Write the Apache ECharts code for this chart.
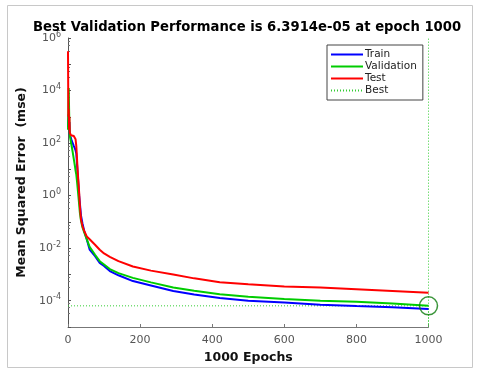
<!DOCTYPE html>
<html><head><meta charset="utf-8">
<script src="https://cdn.jsdelivr.net/npm/echarts@6/dist/echarts.min.js"></script>
<style>html,body{margin:0;padding:0;background:#fff}#c{width:480px;height:375px}</style>
</head><body><div id="c"></div>
<script>
var epochs = [0,1,2,3,4,5,6,8,10,13,16,19,21,23,25,27,29,31,33,36,40,45,52,60,75,88,100,116,140,180,230,292,350,421,500,600,700,800,900,1000];
var trainMse = [400,800,1260,400,630,200,178,158,126,100,79,63,52,40,16,6.3,2.5,1.0,0.5,0.178,0.089,0.045,0.022,0.0089,0.005,0.00275,0.0021,0.00135,9.3e-4,5.6e-4,3.8e-4,2.35e-4,1.74e-4,1.26e-4,1.0e-4,8.5e-5,7.1e-5,6.3e-5,5.6e-5,4.8e-5];
var validationMse = [320,1600,12600,2000,400,200,160,112,79,45,25,14,8.9,6.3,3.5,1.8,0.91,0.45,0.22,0.112,0.063,0.04,0.022,0.0112,0.0056,0.0032,0.0024,0.0016,0.00112,7.4e-4,5.0e-4,3.2e-4,2.4e-4,1.78e-4,1.41e-4,1.17e-4,1.0e-4,9.1e-5,7.9e-5,6.3914e-5];
var testMse = [3.1e5,1000,2000,320,1000,250,220,200,200,190,185,180,140,79,25,7.9,3.2,1.26,0.4,0.126,0.071,0.045,0.028,0.022,0.0135,0.0087,0.0063,0.0047,0.0032,0.002,0.0014,0.001,7.1e-4,5.1e-4,4.2e-4,3.5e-4,3.2e-4,2.75e-4,2.35e-4,2.0e-4];
var bestEpoch = 1000;
var bestValue = 6.3914e-5;
var yMin = 1e-5, yMax = 1e6;
var titleText = 'Best Validation Performance is 6.3914e-05 at epoch 1000';

function pairs(xs, ys){ var out=[]; for (var i=0;i<xs.length;i++) out.push([xs[i], ys[i]]); return out; }

var chart = echarts.init(document.getElementById('c'), null, {renderer:'canvas'});
var font = 'DejaVu Sans';
chart.setOption({
  animation:false,
  backgroundColor:'#fff',
  graphic:[{type:'rect', shape:{x:7.5,y:5.5,width:465,height:362}, style:{fill:'none', stroke:'#c8c8c8', lineWidth:1}, z:-10}],
  title:{text:titleText, left:28, top:16,
    textStyle:{fontFamily:font, fontWeight:'bold', fontSize:13.2, color:'#000'}},
  legend:{orient:'vertical', left:327, top:45, padding:[4,6,4,3], itemGap:1, itemWidth:32, itemHeight:11,
    backgroundColor:'#fff', borderColor:'#444', borderWidth:1, borderRadius:0,
    itemStyle:{opacity:0},
    textStyle:{fontFamily:font, fontSize:10.5, color:'#222', padding:[0,0,0,-3]},
    data:['Train','Validation','Test','Best']},
  grid:{left:68, right:51.5, top:38, bottom:48, containLabel:false},
  xAxis:{type:'value', min:0, max:1000, interval:200,
    name:'1000 Epochs', nameLocation:'middle', nameGap:22,
    nameTextStyle:{fontFamily:font, fontWeight:'bold', fontSize:12.5, color:'#111'},
    axisLine:{lineStyle:{color:'#777', width:1}},
    axisTick:{inside:true, length:3, lineStyle:{color:'#777'}},
    axisLabel:{fontFamily:font, fontSize:11, color:'#555', margin:8, formatter:function(v){return String(v);}},
    splitLine:{show:false}},
  yAxis:{type:'log', logBase:10, min:yMin, max:yMax, interval:1,
    name:'Mean Squared Error  (mse)', nameLocation:'middle', nameGap:33, nameRotate:90,
    nameTextStyle:{fontFamily:font, fontWeight:'bold', fontSize:12.5, color:'#111'},
    axisLine:{show:true, lineStyle:{color:'#555', width:1}},
    axisTick:{show:true, inside:true, length:3, lineStyle:{color:'#555'}},
    minorTick:{show:true, splitNumber:4, length:2, lineStyle:{color:'#777'}},
    axisLabel:{fontFamily:font, fontSize:11, color:'#555', margin:7,
      formatter:function(v){ var e=Math.round(Math.log10(v)); if (Math.abs(e)%2===1) return ''; return '10{s|'+e+'}'; },
      rich:{s:{fontFamily:font, fontSize:8, color:'#555', verticalAlign:'top', padding:[0,0,7,0]}}},
    splitLine:{show:false}},
  series:[
    {name:'Best', type:'line', symbol:'none', z:1,
      data:[[0,bestValue],[bestEpoch,bestValue],[bestEpoch,yMin],[bestEpoch,yMax]],
      lineStyle:{color:'#33cc33', width:1, type:[1,2]}, itemStyle:{color:'#33cc33'}},
    {name:'Train', type:'line', symbol:'none', data:pairs(epochs, trainMse), lineStyle:{color:'#0000ff', width:2}, itemStyle:{color:'#0000ff'}, z:3},
    {name:'Validation', type:'line', symbol:'none', data:pairs(epochs, validationMse), lineStyle:{color:'#00cc00', width:2}, itemStyle:{color:'#00cc00'}, z:4},
    {name:'Test', type:'line', symbol:'none', data:pairs(epochs, testMse), lineStyle:{color:'#ff0000', width:2}, itemStyle:{color:'#ff0000'}, z:5},
    {name:'bestMarker', type:'scatter', symbol:'circle', symbolSize:18, z:6,
      data:[[bestEpoch,bestValue]],
      itemStyle:{color:'rgba(0,0,0,0)', borderColor:'#0a7a0a', borderWidth:1.5}}
  ]
});
</script></body></html>
